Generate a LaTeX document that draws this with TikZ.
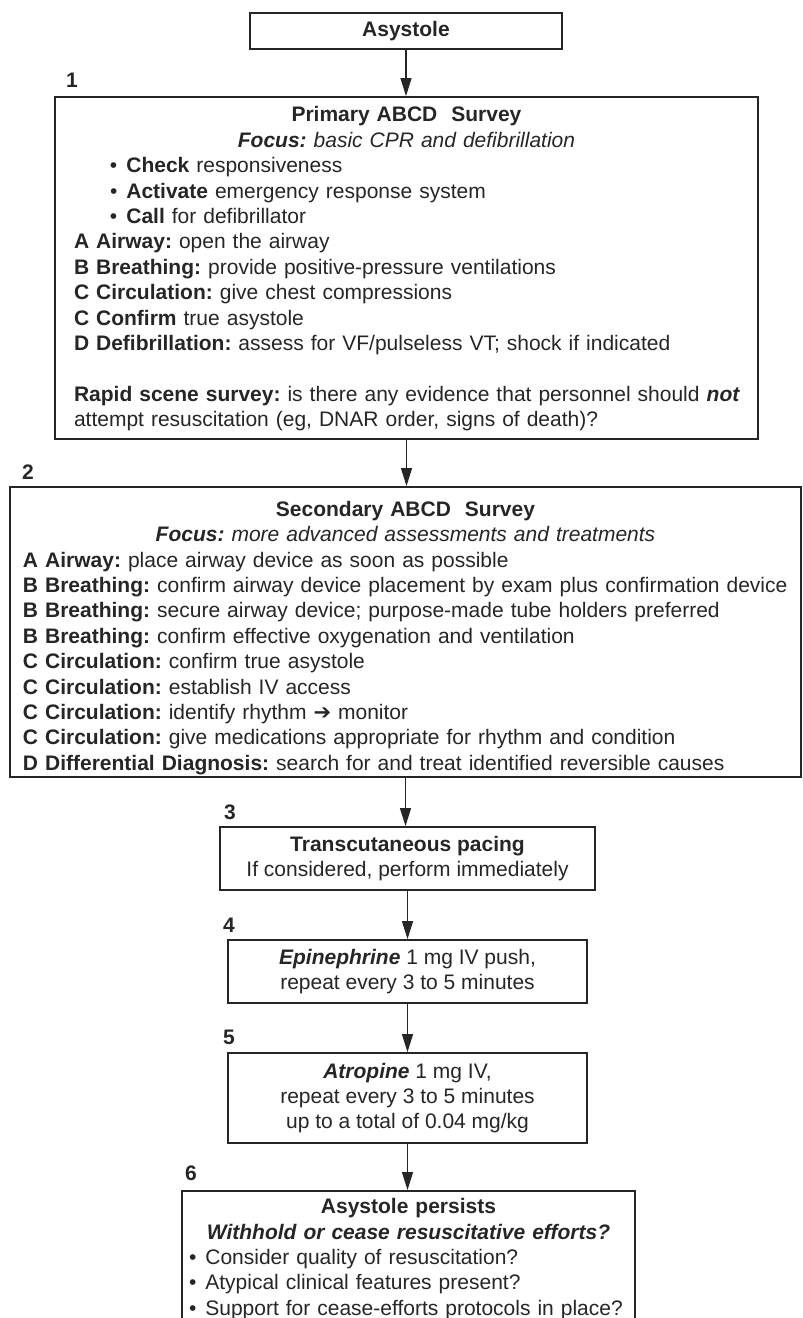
\documentclass[tikz,border=0pt]{standalone}
\usepackage{fontspec}
\setmainfont{Liberation Sans}
\newfontfamily\dvfont{DejaVu Sans}
\usetikzlibrary{arrows.meta}
\definecolor{ink}{HTML}{262626}
\newcommand{\ctr}[1]{\makebox[\hsize]{#1}}
\newcommand{\bul}{\textbullet\hspace{9pt}}
\frenchspacing
\begin{document}
\begin{tikzpicture}[x=1pt,y=-1pt,
  box/.style={draw=ink, line width=1.8pt, rectangle, inner sep=0pt, text=ink,
    font=\fontsize{21}{25.4}\selectfont\frenchspacing},
  conn/.style={draw=ink, line width=1.2pt, -{Triangle[length=18pt,width=11pt]}},
  num/.style={text=ink, font=\fontsize{21}{25}\selectfont\bfseries, inner sep=0pt}]
\useasboundingbox (0,0) rectangle (803,1318);
\clip (0,0) rectangle (803,1318);
\fill[white] (0,0) rectangle (803,1318);

\node[box, minimum width=312pt, minimum height=36pt] (a) at (406,31) {\textbf{Asystole}};

\node[box, minimum width=703pt, minimum height=342pt, text width=665pt, align=left] (b1) at (406.5,268) {%
\ctr{\rule{0pt}{17pt}\textbf{Primary ABCD\ \ Survey}}\\
\ctr{\textbf{\textit{Focus:}} \textit{basic CPR and defibrillation}}\\
\hspace*{36pt}\bul\textbf{Check} responsiveness\\
\hspace*{36pt}\bul\textbf{Activate} emergency response system\\
\hspace*{36pt}\bul\textbf{Call} for defibrillator\\
\textbf{A Airway:} open the airway\\
\textbf{B Breathing:} provide positive-pressure ventilations\\
\textbf{C Circulation:} give chest compressions\\
\textbf{C Confirm} true asystole\\
\mbox{\textbf{D Defibrillation:} assess for VF/pulseless VT; shock if indicated}\\[25.4pt]
\mbox{\textbf{Rapid scene survey:} is there any evidence that personnel should \textbf{\textit{not}}}\\
\mbox{attempt resuscitation (eg, DNAR order, signs of death)?}};

\node[box, minimum width=791pt, minimum height=290pt, text width=765pt, align=left] (b2) at (405.5,632) {%
\ctr{\rule{0pt}{27pt}\textbf{Secondary ABCD\ \ Survey}}\\
\ctr{\textbf{\textit{Focus:}} \textit{more advanced assessments and treatments}}\\
\textbf{A Airway:} place airway device as soon as possible\\
\mbox{\textbf{B Breathing:} confirm airway device placement by exam plus confirmation device}\\
\mbox{\textbf{B Breathing:} secure airway device; purpose-made tube holders preferred}\\
\textbf{B Breathing:} confirm effective oxygenation and ventilation\\
\textbf{C Circulation:} confirm true asystole\\
\textbf{C Circulation:} establish IV access\\
\textbf{C Circulation:} identify rhythm {\dvfont\bfseries ➔} monitor\\
\mbox{\textbf{C Circulation:} give medications appropriate for rhythm and condition}\\
\mbox{\textbf{D Differential Diagnosis:} search for and treat identified reversible causes}};

\node[box, minimum width=375pt, minimum height=63pt, align=center] (b3) at (407.5,858.5) {%
\textbf{Transcutaneous pacing}\\
If considered, perform immediately};

\node[box, minimum width=359pt, minimum height=63pt, align=center] (b4) at (407.5,971.5) {%
\textbf{\textit{Epinephrine}} 1 mg IV push,\\
repeat every 3 to 5 minutes};

\node[box, minimum width=359pt, minimum height=90pt, align=center] (b5) at (407.5,1098) {%
\textbf{\textit{Atropine}} 1 mg IV,\\
repeat every 3 to 5 minutes\\
up to a total of 0.04 mg/kg};

\node[box, anchor=north, minimum width=453pt, text width=439pt, inner ysep=7.5pt, align=left] (b6) at (408.5,1190) {%
\ctr{\textbf{Asystole persists}}\\
\ctr{\textbf{\textit{Withhold or cease resuscitative efforts?}}}\\
\bul Consider quality of resuscitation?\\
\bul Atypical clinical features present?\\
\mbox{\bul Support for cease-efforts protocols in place?}};

\node[num] (n1) at (72,80) {1};
\node[num] (n2) at (28,472) {2};
\node[num] (n3) at (230,812) {3};
\node[num] (n4) at (229,925) {4};
\node[num] (n5) at (229,1037) {5};
\node[num] (n6) at (191,1173) {6};

\draw[conn] (a.south) -- (a.south |- b1.north);
\draw[conn] (b1.south) -- (b1.south |- b2.north);
\draw[conn] (b2.south) -- (b2.south |- b3.north);
\draw[conn] (b3.south) -- (b3.south |- b4.north);
\draw[conn] (b4.south) -- (b4.south |- b5.north);
\draw[conn] (b5.south) -- (b5.south |- b6.north);
\end{tikzpicture}
\end{document}
